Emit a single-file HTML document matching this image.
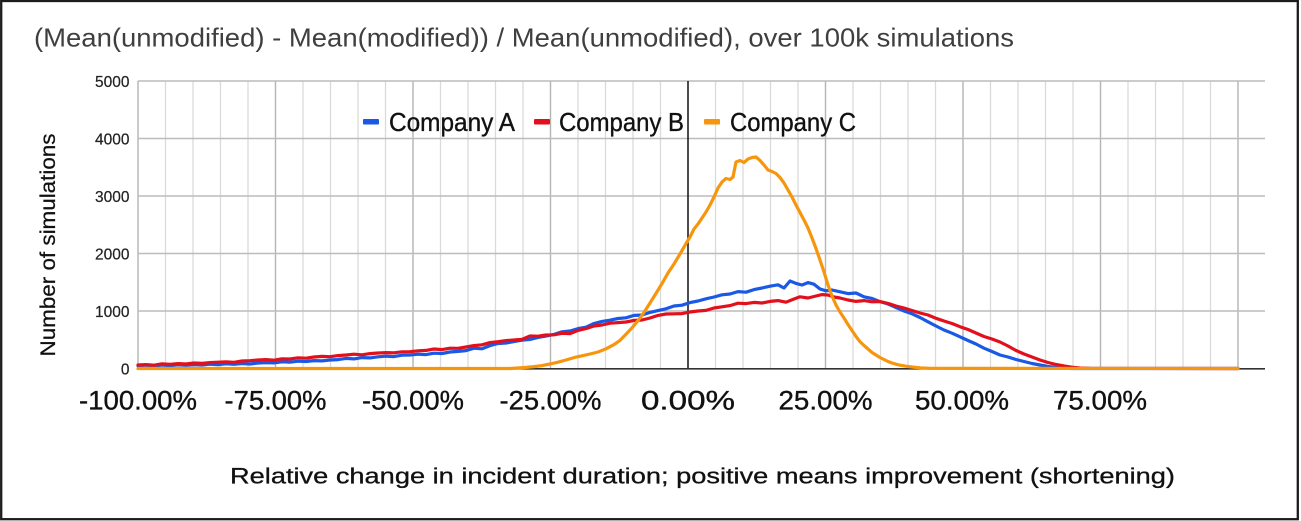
<!DOCTYPE html>
<html>
<head>
<meta charset="utf-8">
<style>
html,body{margin:0;padding:0;background:#fff;}
body{width:1301px;height:521px;overflow:hidden;}
svg{display:block;}
text{font-family:"Liberation Sans",Arial,sans-serif;}
</style>
</head>
<body>
<svg width="1301" height="521" viewBox="0 0 1301 521" xmlns="http://www.w3.org/2000/svg">
<rect x="0" y="0" width="1301" height="521" fill="#fff"/>
<rect x="1.2" y="1" width="1296.6" height="518.2" fill="none" stroke="#1c1c1c" stroke-width="2.3"/>

<!-- title -->
<text x="34" y="46.5" font-size="26" fill="#3f3f3f" textLength="980" lengthAdjust="spacingAndGlyphs">(Mean(unmodified) - Mean(modified)) / Mean(unmodified), over 100k simulations</text>

<!-- minor vertical grid -->
<g stroke="#dadada" stroke-width="1.3">
<line x1="165.5" y1="81" x2="165.5" y2="368.5"/>
<line x1="193" y1="81" x2="193" y2="368.5"/>
<line x1="220.5" y1="81" x2="220.5" y2="368.5"/>
<line x1="248" y1="81" x2="248" y2="368.5"/>
<line x1="303" y1="81" x2="303" y2="368.5"/>
<line x1="330.5" y1="81" x2="330.5" y2="368.5"/>
<line x1="358" y1="81" x2="358" y2="368.5"/>
<line x1="385.5" y1="81" x2="385.5" y2="368.5"/>
<line x1="440.5" y1="81" x2="440.5" y2="368.5"/>
<line x1="468" y1="81" x2="468" y2="368.5"/>
<line x1="495.5" y1="81" x2="495.5" y2="368.5"/>
<line x1="523" y1="81" x2="523" y2="368.5"/>
<line x1="578" y1="81" x2="578" y2="368.5"/>
<line x1="605.5" y1="81" x2="605.5" y2="368.5"/>
<line x1="633" y1="81" x2="633" y2="368.5"/>
<line x1="660.5" y1="81" x2="660.5" y2="368.5"/>
<line x1="715.5" y1="81" x2="715.5" y2="368.5"/>
<line x1="743" y1="81" x2="743" y2="368.5"/>
<line x1="770.5" y1="81" x2="770.5" y2="368.5"/>
<line x1="798" y1="81" x2="798" y2="368.5"/>
<line x1="853" y1="81" x2="853" y2="368.5"/>
<line x1="880.5" y1="81" x2="880.5" y2="368.5"/>
<line x1="908" y1="81" x2="908" y2="368.5"/>
<line x1="935.5" y1="81" x2="935.5" y2="368.5"/>
<line x1="990.5" y1="81" x2="990.5" y2="368.5"/>
<line x1="1018" y1="81" x2="1018" y2="368.5"/>
<line x1="1045.5" y1="81" x2="1045.5" y2="368.5"/>
<line x1="1073" y1="81" x2="1073" y2="368.5"/>
<line x1="1128" y1="81" x2="1128" y2="368.5"/>
<line x1="1155.5" y1="81" x2="1155.5" y2="368.5"/>
<line x1="1183" y1="81" x2="1183" y2="368.5"/>
<line x1="1210.5" y1="81" x2="1210.5" y2="368.5"/>
</g>
<!-- major vertical grid -->
<g stroke="#b4b4b4" stroke-width="1.4">
<line x1="138" y1="81" x2="138" y2="368.5"/>
<line x1="275.5" y1="81" x2="275.5" y2="368.5"/>
<line x1="413" y1="81" x2="413" y2="368.5"/>
<line x1="550.5" y1="81" x2="550.5" y2="368.5"/>
<line x1="825.5" y1="81" x2="825.5" y2="368.5"/>
<line x1="963" y1="81" x2="963" y2="368.5"/>
<line x1="1100.5" y1="81" x2="1100.5" y2="368.5"/>
<line x1="1238" y1="81" x2="1238" y2="368.5"/>
</g>
<!-- horizontal grid -->
<g stroke="#bcbcbc" stroke-width="1.5">
<line x1="138" y1="81" x2="1265" y2="81"/>
<line x1="138" y1="138.5" x2="1265" y2="138.5"/>
<line x1="138" y1="196" x2="1265" y2="196"/>
<line x1="138" y1="253.5" x2="1265" y2="253.5"/>
<line x1="138" y1="311" x2="1265" y2="311"/>
</g>
<!-- zero line and baseline -->
<line x1="688" y1="81" x2="688" y2="368.5" stroke="#111" stroke-width="1.5"/>
<line x1="138" y1="368.8" x2="1265" y2="368.8" stroke="#333" stroke-width="1.6"/>

<!-- y tick labels -->
<g font-size="15.5" fill="#222" text-anchor="end" stroke="#222" stroke-width="0.2">
<text x="129.5" y="87">5000</text>
<text x="129.5" y="144.5">4000</text>
<text x="129.5" y="202">3000</text>
<text x="129.5" y="259.5">2000</text>
<text x="129.5" y="317">1000</text>
<text x="129.5" y="374.5">0</text>
</g>

<!-- y axis title -->
<text transform="translate(55,245) rotate(-90)" text-anchor="middle" font-size="21.5" fill="#111" stroke="#111" stroke-width="0.25" textLength="223" lengthAdjust="spacingAndGlyphs">Number of simulations</text>

<!-- x tick labels -->
<g font-size="27" fill="#111" text-anchor="middle" stroke="#111" stroke-width="0.35">
<text x="138" y="409.5" textLength="118" lengthAdjust="spacingAndGlyphs">-100.00%</text>
<text x="275.5" y="409.5" textLength="102" lengthAdjust="spacingAndGlyphs">-75.00%</text>
<text x="413" y="409.5" textLength="102" lengthAdjust="spacingAndGlyphs">-50.00%</text>
<text x="550.5" y="409.5" textLength="102" lengthAdjust="spacingAndGlyphs">-25.00%</text>
<text x="688" y="409.5" textLength="94" lengthAdjust="spacingAndGlyphs">0.00%</text>
<text x="825.5" y="409.5" textLength="94" lengthAdjust="spacingAndGlyphs">25.00%</text>
<text x="962" y="409.5" textLength="94" lengthAdjust="spacingAndGlyphs">50.00%</text>
<text x="1100" y="409.5" textLength="94" lengthAdjust="spacingAndGlyphs">75.00%</text>
</g>

<!-- x axis title -->
<text x="230" y="483.5" font-size="22.5" fill="#111" stroke="#111" stroke-width="0.3" textLength="945" lengthAdjust="spacingAndGlyphs">Relative change in incident duration; positive means improvement (shortening)</text>

<!-- series -->
<g fill="none" stroke-width="3.2" stroke-linejoin="round" stroke-linecap="round">
<polyline stroke="#1a58e6" points="138,365.8 146,365.2 154,365.9 162,365.0 170,365.6 178,364.8 186,365.3 194,364.6 202,365.0 210,364.2 218,364.7 226,363.8 234,364.3 242,363.5 250,364.0 258,363.0 266,362.6 274,362.9 282,361.8 290,362.2 298,361.2 306,361.5 314,360.6 322,360.9 330,360.0 338,359.6 346,358.4 354,358.9 362,357.6 370,357.9 378,356.8 386,356.2 394,356.6 402,355.2 410,355.0 418,354.2 426,354.6 434,353.2 442,353.5 450,352.0 458,351.4 466,350.6 474,348.2 482,348.8 490,345.6 498,343.5 506,343.0 514,341.6 522,340.2 530,339.4 538,337.4 546,336.0 554,334.4 562,331.8 570,331.0 578,328.6 586,327.2 594,323.5 602,321.4 610,320.2 618,318.5 626,317.8 634,315.4 642,315.0 650,312.4 658,310.6 666,308.8 674,306.0 682,305.2 690,302.6 698,301.0 706,298.8 714,297.0 722,294.8 730,294.0 738,291.6 746,292.2 754,289.6 762,288.0 770,286.2 778,284.8 784,288.0 790,281.0 796,283.4 802,285.0 808,282.6 814,284.2 820,289.0 826,290.8 832,290.0 840,291.8 848,293.6 856,293.0 864,296.8 872,298.5 880,301.6 888,304.0 896,307.5 904,311.0 912,313.8 920,317.5 928,321.8 936,326.0 944,330.0 952,333.2 960,336.8 968,340.5 976,344.0 984,348.2 992,351.5 1000,355.0 1008,357.0 1016,359.5 1024,361.5 1032,363.5 1040,365.0 1048,366.4 1056,367.5 1064,368.2 1072,368.5 1238,368.5"/>
<polyline stroke="#e2101c" points="138,365.0 146,364.6 154,365.2 162,363.8 170,364.4 178,363.6 186,364.0 194,363.0 202,363.4 210,362.6 218,362.2 226,361.8 234,362.3 242,361.0 250,360.7 258,360.0 266,359.6 274,360.2 282,358.8 290,359.0 298,357.8 306,358.2 314,357.0 322,356.4 330,356.7 338,355.6 346,355.0 354,354.2 362,354.8 370,353.6 378,353.0 386,352.6 394,352.8 402,351.8 410,351.7 418,350.8 426,350.4 434,349.0 442,349.6 450,348.2 458,348.3 466,347.0 474,345.6 482,344.8 490,342.6 498,341.7 506,340.6 514,340.0 522,339.3 530,336.0 538,336.2 546,335.0 554,334.8 562,333.3 570,333.6 578,330.4 586,328.6 594,326.0 602,325.0 610,323.2 618,322.6 626,322.0 634,320.4 642,320.0 650,318.0 658,315.4 666,314.0 674,313.8 682,313.6 690,312.0 698,311.0 706,310.4 714,308.0 722,306.8 730,305.6 738,303.2 746,303.6 754,302.4 762,303.0 770,301.4 778,300.6 786,302.2 794,299.0 800,296.8 808,298.0 816,296.0 822,294.6 828,295.0 834,297.0 840,298.0 848,300.0 856,301.4 864,300.6 872,301.8 880,301.6 888,303.4 896,306.0 904,308.0 912,310.5 920,313.0 928,315.0 936,318.3 944,321.0 952,323.5 960,326.7 968,329.5 976,333.0 984,336.5 992,339.0 1000,342.0 1008,346.0 1016,350.5 1024,354.0 1032,357.0 1040,360.0 1048,362.5 1056,364.5 1064,366.0 1072,367.2 1080,368.0 1090,368.4 1238,368.5"/>
<polyline stroke="#f7960d" points="138,368.5 510,368.5 518,368.0 526,367.4 534,366.6 542,365.6 550,364.0 558,362.2 566,360.0 574,357.6 582,355.8 590,354.0 598,352.0 606,348.8 614,344.6 620,340.4 626,334.2 632,327.8 638,320.6 644,312.4 650,303.0 656,293.4 662,283.6 668,273.0 674,264.0 680,254.0 686,243.6 690,237.0 694,229.0 698,224.0 702,218.0 706,212.0 710,205.0 714,197.0 718,188.0 722,182.0 726,178.5 730,179.5 733,177.0 736,162.0 740,160.5 744,162.5 748,159.0 752,157.5 756,157.0 760,160.5 764,165.0 768,170.0 772,171.5 776,173.5 780,177.5 784,183.0 788,190.0 792,197.0 796,205.0 800,212.5 804,220.0 808,228.0 812,238.0 816,248.5 820,260.0 824,272.0 828,285.0 832,296.0 836,305.0 840,312.0 844,318.0 848,324.5 852,330.5 856,336.5 860,341.7 864,345.5 868,349.0 872,352.5 876,355.0 880,357.5 884,359.5 888,361.5 892,363.0 896,364.2 900,365.2 906,366.2 912,367.0 920,367.8 930,368.3 1238,368.5"/>
</g>

<!-- legend -->
<rect x="363" y="119" width="16" height="5.5" rx="1" fill="#1a58e6"/>
<rect x="534" y="119" width="16" height="5.5" rx="1" fill="#e2101c"/>
<rect x="704" y="119" width="16" height="5.5" rx="1" fill="#f7960d"/>
<g font-size="26" fill="#111" stroke="#111" stroke-width="0.35">
<text x="389" y="131" textLength="126" lengthAdjust="spacingAndGlyphs">Company A</text>
<text x="559" y="131" textLength="125" lengthAdjust="spacingAndGlyphs">Company B</text>
<text x="730" y="131" textLength="126" lengthAdjust="spacingAndGlyphs">Company C</text>
</g>
</svg>
</body>
</html>
